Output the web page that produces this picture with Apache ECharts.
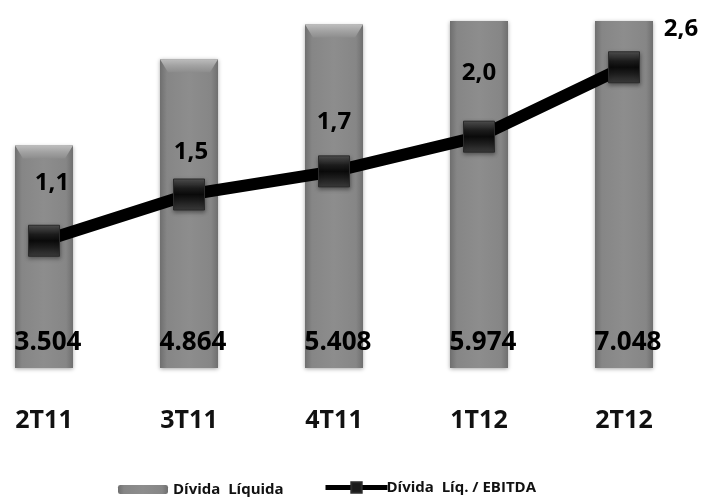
<!DOCTYPE html>
<html>
<head>
<meta charset="utf-8">
<script src="https://cdn.jsdelivr.net/npm/echarts@6/dist/echarts.min.js"></script>
<style>
  html, body { margin: 0; padding: 0; background: #fff; }
  #chart { width: 702px; height: 498px; }
</style>
</head>
<body>
<div id="chart"></div>
<script>
// Quarters
const quarters = ['2T11', '3T11', '4T11', '1T12', '2T12'];
// Net debt (R$ mm)
const netDebt = [3504, 4864, 5408, 5974, 7048];
// Net debt / EBITDA ratio
const debtToEbitda = [1.1, 1.5, 1.7, 2.0, 2.6];

const seriesBar = 'Dívida  Líquida';
const seriesLine = 'Dívida  Líq. / EBITDA';

// label placement relative to each marker
const ratioLabelOffsets = [[8, -58], [2, -42], [0, -49], [0, -64], [57, -38]];

const fmtThousands = v => {
  const s = String(Math.round(v));
  return s.replace(/\B(?=(\d{3})+(?!\d))/g, '.');
};
const fmtRatio = v => v.toFixed(1).replace('.', ',');

const FONT = '"Open Sans", Lato, sans-serif';
const BAR_W = 58;
const GRID_TOP = 21;

const barGradient = new echarts.graphic.LinearGradient(0, 0, 1, 0, [
  { offset: 0, color: '#6f6f6f' },
  { offset: 0.12, color: '#868686' },
  { offset: 0.5, color: '#8d8d8d' },
  { offset: 0.88, color: '#868686' },
  { offset: 1, color: '#6f6f6f' }
]);

const markerGradient = new echarts.graphic.LinearGradient(0, 0, 0, 1, [
  { offset: 0, color: '#555' },
  { offset: 0.3, color: '#1c1c1c' },
  { offset: 0.5, color: '#0a0a0a' },
  { offset: 0.7, color: '#1c1c1c' },
  { offset: 1, color: '#3c3c3c' }
]);

// bevelled cap on top of each bar whose top is visible inside the plot
function renderBarCap(params, api) {
  const p = api.coord([api.value(0), api.value(1)]);
  if (p[1] < GRID_TOP + 1) return null;
  const h = 13, inset = 8, half = BAR_W / 2;
  return {
    type: 'polygon',
    shape: {
      points: [
        [p[0] - half, p[1]], [p[0] + half, p[1]],
        [p[0] + half - inset, p[1] + h], [p[0] - half + inset, p[1] + h]
      ]
    },
    style: {
      fill: new echarts.graphic.LinearGradient(0, 0, 0, 1, [
        { offset: 0, color: '#bdbdbd' },
        { offset: 0.5, color: '#a2a2a2' },
        { offset: 1, color: '#8d8d8d' }
      ])
    }
  };
}

const chart = echarts.init(document.getElementById('chart'), null, { renderer: 'canvas' });

chart.setOption({
  animation: false,
  backgroundColor: '#ffffff',
  grid: {
    left: -28.5, right: 5.5, top: GRID_TOP, bottom: 130,
    containLabel: false, outerBoundsMode: 'none'
  },
  legend: [
    {
      data: [{ name: seriesBar }],
      left: 113, top: 477,
      itemWidth: 50, itemHeight: 9,
      textStyle: { fontFamily: FONT, fontWeight: 'bold', fontSize: 15, color: '#111' },
      itemGap: 10
    },
    {
      data: [{ name: seriesLine }],
      left: 318, top: 475,
      itemWidth: 62, itemHeight: 13,
      textStyle: { fontFamily: FONT, fontWeight: 'bold', fontSize: 15, color: '#111', padding: [0, 0, 0, -6] },
      lineStyle: { width: 5 },
      itemStyle: { color: '#1a1a1a' }
    }
  ],
  xAxis: {
    type: 'category',
    data: quarters,
    boundaryGap: true,
    axisLine: { show: false },
    axisTick: { show: false },
    axisLabel: {
      margin: 40,
      fontFamily: FONT, fontWeight: 'bold', fontSize: 25, color: '#111'
    }
  },
  yAxis: [
    { type: 'value', min: 0, max: 5465, show: false, splitLine: { show: false } },
    { type: 'value', min: 0, max: 3.0, show: false, splitLine: { show: false } }
  ],
  series: [
    {
      name: seriesBar,
      type: 'bar',
      yAxisIndex: 0,
      data: netDebt,
      barWidth: BAR_W,
      clip: true,
      itemStyle: {
        color: barGradient,
        shadowColor: 'rgba(0,0,0,0.35)',
        shadowBlur: 4,
        shadowOffsetY: 1
      },
      label: {
        show: true,
        position: 'insideBottom',
        distance: 12,
        offset: [4, 0],
        formatter: p => fmtThousands(p.value),
        fontFamily: FONT, fontWeight: 'bold', fontSize: 26, color: '#000'
      },
      z: 1
    },
    {
      type: 'custom',
      yAxisIndex: 0,
      data: netDebt.map((v, i) => [i, v]),
      renderItem: renderBarCap,
      silent: true,
      z: 2
    },
    {
      name: seriesLine,
      type: 'line',
      yAxisIndex: 1,
      data: debtToEbitda.map((v, i) => ({
        value: v,
        label: { offset: ratioLabelOffsets[i] }
      })),
      symbol: 'rect',
      symbolSize: 31,
      lineStyle: { color: '#000', width: 12 },
      itemStyle: {
        color: markerGradient,
        borderColor: '#2a2a2a',
        borderWidth: 1,
        shadowColor: 'rgba(0,0,0,0.4)',
        shadowBlur: 4,
        shadowOffsetY: 2
      },
      label: {
        show: true,
        position: 'inside',
        formatter: p => fmtRatio(p.value),
        fontFamily: FONT, fontWeight: 'bold', fontSize: 24, color: '#000'
      },
      z: 3
    }
  ]
});
</script>
</body>
</html>
